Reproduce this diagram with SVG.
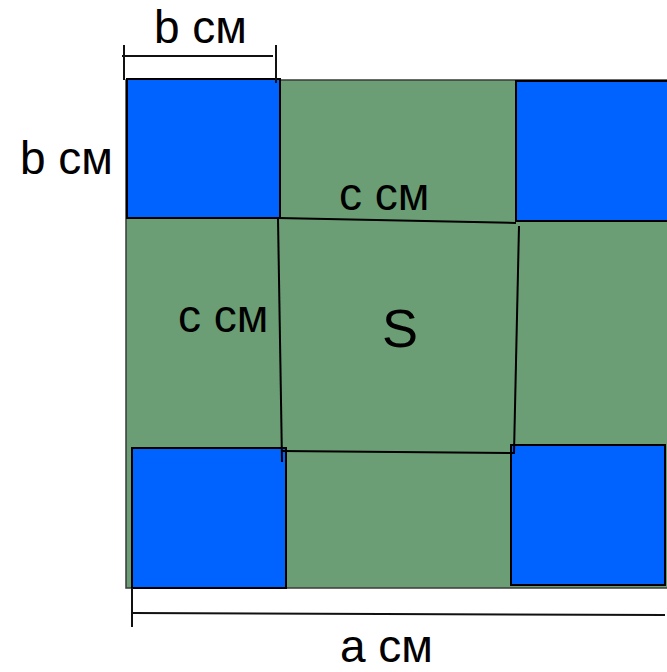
<svg xmlns="http://www.w3.org/2000/svg" width="667" height="672" viewBox="0 0 667 672">
<style>
.field{fill:#6b9e74;stroke:#3a3a3a;stroke-width:1.5}
.sq{fill:#0062ff;stroke:#000;stroke-width:2}
.ln{stroke:#000;stroke-width:2;fill:none}
.dim{stroke:#111;stroke-width:2;fill:none}
text{font-family:"Liberation Sans",Arial,sans-serif;fill:#000}
.lbl{font-size:46px}
.big{font-size:54px}
</style>
<rect width="667" height="672" fill="#fff"/>
<g id="field"><rect class="field" x="126" y="80" width="560" height="508"/></g>
<g id="square-tl"><rect class="sq" x="127" y="79" width="153" height="139"/></g>
<g id="square-tr"><rect class="sq" x="516" y="81" width="170" height="140"/></g>
<g id="square-bl"><rect class="sq" x="132" y="448" width="154" height="140"/></g>
<g id="square-br"><rect class="sq" x="511" y="445" width="154" height="140"/></g>
<g id="connectors">
<line class="ln" x1="278" y1="218" x2="516" y2="223"/>
<line class="ln" x1="278" y1="218" x2="282" y2="462"/>
<line class="ln" x1="519" y1="226" x2="514" y2="453"/>
<line class="ln" x1="281" y1="451" x2="515" y2="453"/>
<line class="dim" x1="122" y1="56" x2="273" y2="56"/>
<line class="dim" x1="124" y1="45" x2="124" y2="80"/>
<line class="dim" x1="276" y1="45" x2="276" y2="83"/>
<line class="dim" x1="132" y1="613" x2="665" y2="615"/>
<line class="dim" x1="132" y1="588" x2="132" y2="627"/>
</g>
<g id="labels">
<text class="lbl" x="154" y="43">b см</text>
<text class="lbl" x="20" y="174">b см</text>
<text class="lbl" x="178" y="332">с см</text>
<text class="lbl" x="339" y="210">с см</text>
<text class="big" x="382" y="347">S</text>
<text class="lbl" x="340" y="662">а см</text>
</g>
</svg>
